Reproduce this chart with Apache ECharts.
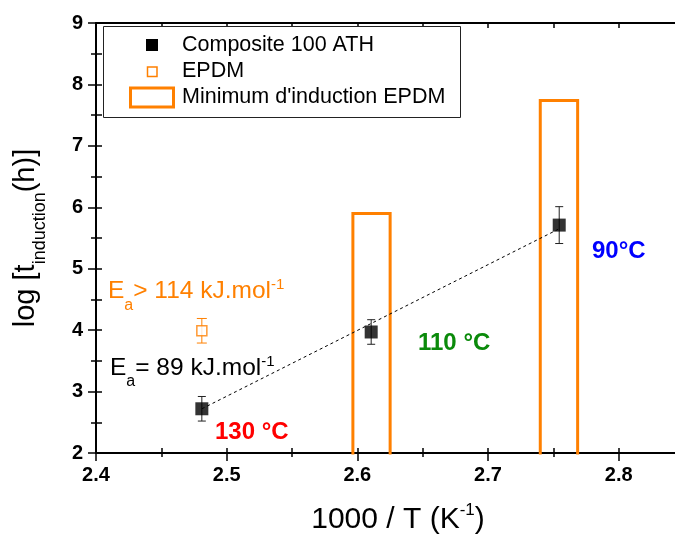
<!DOCTYPE html>
<html>
<head>
<meta charset="utf-8">
<script src="https://cdn.jsdelivr.net/npm/echarts@6/dist/echarts.min.js"></script>
<style>
  html, body { margin: 0; padding: 0; background: #fff; }
  #chart { width: 675px; height: 534px; }
</style>
</head>
<body>
<div id="chart"></div>
<script>
// 数据
const xTicks = [2.4, 2.5, 2.6, 2.7, 2.8];
const yTicks = [2, 3, 4, 5, 6, 7, 8, 9];
const composite_x = [2.481, 2.6106, 2.7545];
const composite_y = [2.72, 3.97, 5.71];
const composite_err = [0.2, 0.2, 0.3];
const epdm_x = [2.481];
const epdm_y = [3.99];
const epdm_err = [0.2];
// Minimum d'induction EPDM (gauche, droite, haut)
const box_left = [2.5966, 2.7400];
const box_right = [2.6251, 2.7686];
const box_top = [5.90, 7.74];
const box_floor = 1.5;
// droite Ea
const fit_x = [2.481, 2.7545];
const fit_y = [2.72, 5.65];

const fontFamily = "'Liberation Sans', Arial, sans-serif";
const orange = "#ff8000";

const chart = echarts.init(document.getElementById('chart'));

function errorBar(capHalf, color) {
  return function (params, api) {
    const x = api.value(0);
    const top = api.coord([x, api.value(2)]);
    const bot = api.coord([x, api.value(1)]);
    const style = { stroke: color, lineWidth: 1, fill: null };
    return {
      type: 'group',
      children: [
        { type: 'line', shape: { x1: top[0], y1: top[1], x2: bot[0], y2: bot[1] }, style },
        { type: 'line', shape: { x1: top[0] - capHalf, y1: top[1], x2: top[0] + capHalf, y2: top[1] }, style },
        { type: 'line', shape: { x1: bot[0] - capHalf, y1: bot[1], x2: bot[0] + capHalf, y2: bot[1] }, style },
      ],
    };
  };
}

const xMin = xTicks[0], xStep = xTicks[1] - xTicks[0];
const yMin = yTicks[0], yStep = yTicks[1] - yTicks[0];
const xMax = 2.85, yMax = yTicks[yTicks.length - 1];

function xFmt(v) {
  return xTicks.some(t => Math.abs(t - v) < 1e-6) ? v.toFixed(1) : '';
}

const boxSeries = box_left.map((l, i) => ({
  name: "Minimum d'induction EPDM",
  type: 'line',
  clip: true,
  showSymbol: false,
  silent: true,
  z: 2,
  lineStyle: { color: orange, width: 3, join: 'miter' },
  data: [[l, box_floor], [l, box_top[i]], [box_right[i], box_top[i]], [box_right[i], box_floor]],
}));

const hiddenAxis = {
  axisLine: { show: false },
  axisLabel: { show: false },
  splitLine: { show: false },
};

var option = {
  animation: false,
  grid: {
    left: 96,
    right: -9,
    top: 23,
    bottom: 81,
    containLabel: false,
    outerBoundsMode: 'none',
  },
  xAxis: [
    {
      type: 'value',
      position: 'bottom',
      min: xMin,
      max: xMax,
      interval: xStep,
      axisLine: { show: true, onZero: false, lineStyle: { color: '#000', width: 2 } },
      axisTick: { show: true, inside: false, length: 8, lineStyle: { color: '#000', width: 1.5 } },
      minorTick: { show: true, splitNumber: 2, length: 4, lineStyle: { color: '#000', width: 1.5 } },
      axisLabel: {
        margin: 12,
        color: '#000',
        fontSize: 20,
        fontWeight: 'bold',
        fontFamily: fontFamily,
        showMaxLabel: false,
        formatter: xFmt,
      },
      splitLine: { show: false },
      name: '{a|1000 / T (K}{b|-1}{a|)}',
      nameLocation: 'middle',
      nameGap: 49,
      nameMoveOverlap: false,
      nameTextStyle: {
        padding: [0, 0, 0, 16],
        rich: {
          a: { fontSize: 30, fontFamily: fontFamily, color: '#000' },
          b: { fontSize: 17, fontFamily: fontFamily, color: '#000', padding: [0, 0, 18, 0] },
        },
      },
    },
    Object.assign({
      type: 'value', position: 'bottom', min: xMin, max: xMax, interval: xStep,
      axisTick: { show: true, inside: true, length: 5, lineStyle: { color: '#000', width: 1.5 } },
      minorTick: { show: true, splitNumber: 2, length: 5, lineStyle: { color: '#000', width: 1.5 } },
    }, hiddenAxis),
    {
      type: 'value', position: 'top', min: xMin, max: xMax, interval: xStep,
      axisLine: { show: true, onZero: false, lineStyle: { color: '#000', width: 2 } },
      axisTick: { show: true, inside: true, length: 5, lineStyle: { color: '#000', width: 1.5 } },
      minorTick: { show: true, splitNumber: 2, length: 5, lineStyle: { color: '#000', width: 1.5 } },
      axisLabel: { show: false },
      splitLine: { show: false },
    },
  ],
  yAxis: [
    {
      type: 'value',
      position: 'left',
      min: yMin,
      max: yMax,
      interval: yStep,
      axisLine: { show: true, onZero: false, lineStyle: { color: '#000', width: 2 } },
      axisTick: { show: true, inside: false, length: 8, lineStyle: { color: '#000', width: 1.5 } },
      minorTick: { show: true, splitNumber: 2, length: 5, lineStyle: { color: '#000', width: 1.5 } },
      axisLabel: { margin: 13, color: '#000', fontSize: 20, fontWeight: 'bold', fontFamily: fontFamily },
      splitLine: { show: false },
      name: '{a|log [t}{b|induction}{a|(h)]}',
      nameLocation: 'middle',
      nameRotate: 90,
      nameGap: 47,
      nameMoveOverlap: false,
      nameTextStyle: {
        rich: {
          a: { fontSize: 29, fontFamily: fontFamily, color: '#000' },
          b: { fontSize: 18, fontFamily: fontFamily, color: '#000', padding: [28, 0, 0, 0] },
        },
      },
    },
    Object.assign({
      type: 'value', position: 'left', min: yMin, max: yMax, interval: yStep,
      axisTick: { show: true, inside: true, length: 6, lineStyle: { color: '#000', width: 1.5 } },
      minorTick: { show: true, splitNumber: 2, length: 6, lineStyle: { color: '#000', width: 1.5 } },
    }, hiddenAxis),
  ],
  series: boxSeries.concat([
    {
      name: 'Ea',
      type: 'line',
      showSymbol: false,
      silent: true,
      z: 3,
      lineStyle: { color: '#000', width: 1, type: [3, 3] },
      data: fit_x.map((x, i) => [x, fit_y[i]]),
    },
    {
      name: 'err composite',
      type: 'custom',
      z: 4,
      silent: true,
      renderItem: errorBar(4, '#222'),
      data: composite_x.map((x, i) => [x, composite_y[i] - composite_err[i], composite_y[i] + composite_err[i]]),
    },
    {
      name: 'err epdm',
      type: 'custom',
      z: 4,
      silent: true,
      renderItem: errorBar(5, orange),
      data: epdm_x.map((x, i) => [x, epdm_y[i] - epdm_err[i], epdm_y[i] + epdm_err[i]]),
    },
    {
      name: 'Composite 100 ATH',
      type: 'scatter',
      symbol: 'rect',
      symbolSize: 13,
      z: 5,
      silent: true,
      itemStyle: { color: '#000' },
      data: composite_x.map((x, i) => [x, composite_y[i]]),
    },
    {
      name: 'EPDM',
      type: 'scatter',
      symbol: 'rect',
      symbolSize: 10,
      z: 5,
      silent: true,
      itemStyle: { color: '#fff', borderColor: orange, borderWidth: 1.5 },
      data: epdm_x.map((x, i) => [x, epdm_y[i]]),
    },
  ]),
  graphic: [
    // légende
    { type: 'rect', z: 100, shape: { x: 103.5, y: 26.5, width: 357, height: 91 }, style: { fill: '#fff', stroke: '#222', lineWidth: 1 } },
    { type: 'rect', z: 101, shape: { x: 146, y: 39, width: 12, height: 12 }, style: { fill: '#000' } },
    { type: 'rect', z: 101, shape: { x: 147.5, y: 67, width: 9.5, height: 9.5 }, style: { fill: '#fff', stroke: orange, lineWidth: 1.5 } },
    { type: 'rect', z: 101, shape: { x: 130.5, y: 88, width: 43, height: 19 }, style: { fill: 'none', stroke: orange, lineWidth: 3 } },
    { type: 'text', z: 101, x: 182, y: 45.5, style: { text: 'Composite 100 ATH', font: '21.5px ' + fontFamily, fill: '#000', align: 'left', verticalAlign: 'middle' } },
    { type: 'text', z: 101, x: 182, y: 71.5, style: { text: 'EPDM', font: '21.5px ' + fontFamily, fill: '#000', align: 'left', verticalAlign: 'middle' } },
    { type: 'text', z: 101, x: 182, y: 97, style: { text: "Minimum d'induction EPDM", font: '21.5px ' + fontFamily, fill: '#000', align: 'left', verticalAlign: 'middle' } },
    // annotations
    {
      type: 'text', z: 101, x: 108, y: 291.5,
      style: {
        text: '{m|E}{s|a}{m|> 114 kJ.mol}{p|-1}', fill: orange, align: 'left', verticalAlign: 'middle',
        rich: {
          m: { fontSize: 24.5, fontFamily: fontFamily, fill: orange },
          s: { fontSize: 16, fontFamily: fontFamily, fill: orange, padding: [28, 0, 0, 0] },
          p: { fontSize: 15, fontFamily: fontFamily, fill: orange, padding: [0, 0, 13, 0] },
        },
      },
    },
    {
      type: 'text', z: 101, x: 110, y: 368,
      style: {
        text: '{m|E}{s|a}{m|= 89 kJ.mol}{p|-1}', fill: '#000', align: 'left', verticalAlign: 'middle',
        rich: {
          m: { fontSize: 24.5, fontFamily: fontFamily, fill: '#000' },
          s: { fontSize: 16, fontFamily: fontFamily, fill: '#000', padding: [28, 0, 0, 0] },
          p: { fontSize: 15, fontFamily: fontFamily, fill: '#000', padding: [0, 0, 13, 0] },
        },
      },
    },
    { type: 'text', z: 101, x: 215, y: 432, style: { text: '130 °C', font: 'bold 24px ' + fontFamily, fill: '#ff0000', align: 'left', verticalAlign: 'middle' } },
    { type: 'text', z: 101, x: 418, y: 343, style: { text: '110 °C', font: 'bold 24px ' + fontFamily, fill: '#0a8a0a', align: 'left', verticalAlign: 'middle' } },
    { type: 'text', z: 101, x: 592, y: 251.5, style: { text: '90°C', font: 'bold 24px ' + fontFamily, fill: '#0000ff', align: 'left', verticalAlign: 'middle' } },
  ],
};

chart.setOption(option);
</script>
</body>
</html>
